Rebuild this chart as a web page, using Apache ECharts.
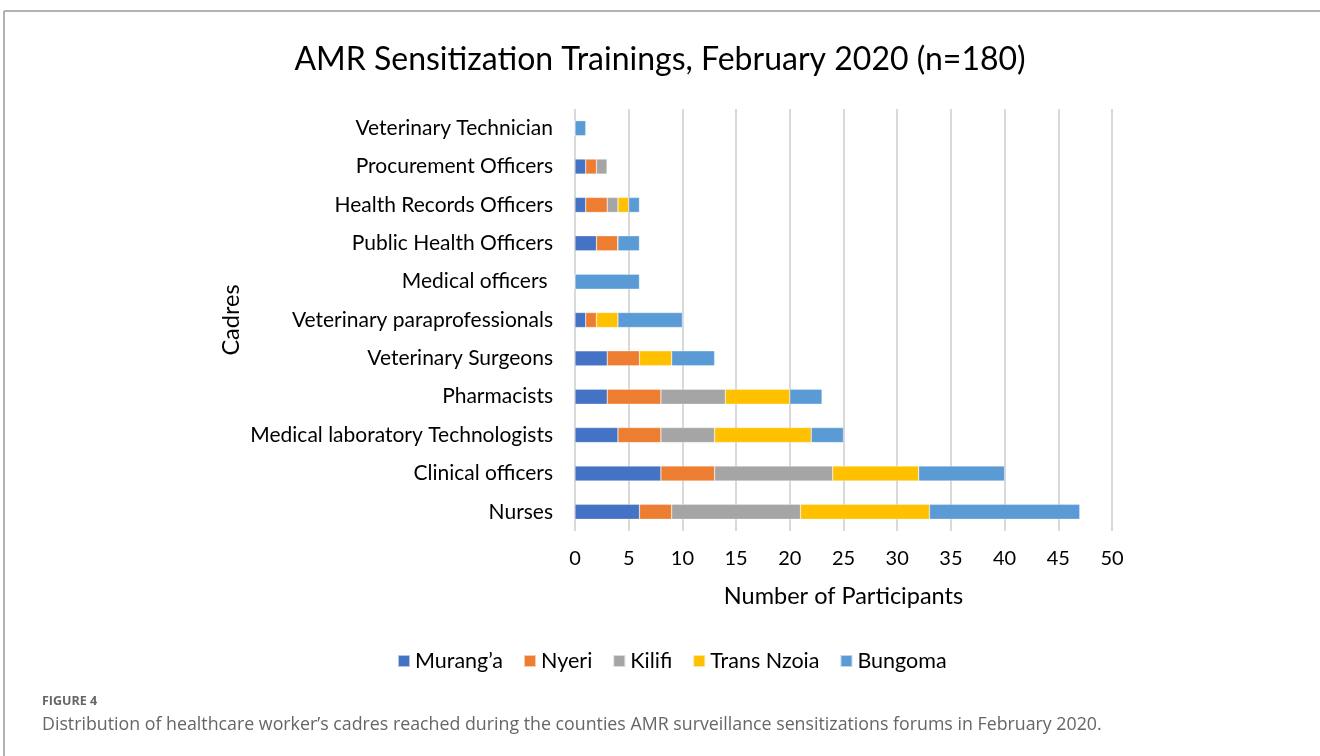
<!DOCTYPE html>
<html><head><meta charset="utf-8">
<script src="https://cdn.jsdelivr.net/npm/echarts@6/dist/echarts.min.js"></script>
<style>html,body{margin:0;padding:0;background:#fff}#c{width:1320px;height:756px}</style>
</head><body><div id="c"></div>
<script>
const categories = ["Veterinary Technician","Procurement Officers","Health Records Officers","Public Health Officers","Medical officers ","Veterinary paraprofessionals","Veterinary Surgeons","Pharmacists","Medical laboratory Technologists","Clinical officers","Nurses"];
const seriesNames = ["Murang\u2019a","Nyeri","Kilifi","Trans Nzoia","Bungoma"];
const muranga    = [0,1,1,2,0,1,3,3,4,8,6];
const nyeri      = [0,1,2,2,0,1,3,5,4,5,3];
const kilifi     = [0,1,1,0,0,0,0,6,5,11,12];
const transNzoia = [0,0,1,0,0,2,3,6,9,8,12];
const bungoma    = [1,0,1,2,6,6,4,3,3,8,14];
const colors = ["#4472C4","#ED7D31","#A5A5A5","#FFC000","#5B9BD5"];
const values = [muranga,nyeri,kilifi,transNzoia,bungoma];
const FONT = "Lato";
const chart = echarts.init(document.getElementById('c'));
chart.setOption({
  animation:false,
  textStyle:{fontFamily:FONT},
  title:{text:"AMR Sensitization Trainings, February 2020 (n=180)",left:'center',top:39,
    textStyle:{fontFamily:FONT,fontSize:32,fontWeight:'normal',color:'#000'}},
  legend:{bottom:79,left:392,itemWidth:12,itemHeight:12,itemGap:20,icon:'rect',
    textStyle:{fontFamily:FONT,fontSize:21.5,color:'#000'}},
  grid:{left:575,right:208,top:109,bottom:225,containLabel:false},
  xAxis:{type:'value',min:0,max:50,interval:5,
    name:'Number of Participants',nameLocation:'middle',nameGap:53,
    nameTextStyle:{fontFamily:FONT,fontSize:23.5,color:'#000'},
    axisLine:{show:false},axisTick:{show:false},
    axisLabel:{fontFamily:FONT,fontSize:20,color:'#000',margin:18},
    splitLine:{lineStyle:{color:'#d9d9d9',width:2}}},
  yAxis:{type:'category',data:categories,inverse:true,
    name:'Cadres',nameLocation:'middle',nameGap:332,nameRotate:90,
    nameTextStyle:{fontFamily:FONT,fontSize:23.5,color:'#000'},
    axisLine:{show:false},axisTick:{show:false},
    axisLabel:{fontFamily:FONT,fontSize:21,color:'#000',margin:22}},
  series: seriesNames.map((n,i)=>({name:n,type:'bar',stack:'t',data:values[i],barWidth:15,
    itemStyle:{color:colors[i],borderColor:'rgba(255,255,255,0.6)',borderWidth:0.5}})),
  graphic:[
    {type:'line',shape:{x1:4,y1:11,x2:1320,y2:11},style:{stroke:'#9a9a9a',lineWidth:1.5}},
    {type:'line',shape:{x1:4,y1:11,x2:4,y2:756},style:{stroke:'#9a9a9a',lineWidth:1.5}},
    {type:'text',left:42,top:695,style:{text:'FIGURE 4',fontFamily:'Open Sans',fontSize:12.5,fontWeight:'bold',fill:'#666'}},
    {type:'text',left:42,top:716,style:{text:'Distribution of healthcare worker\u2019s cadres reached during the counties AMR surveillance sensitizations forums in February 2020.',fontFamily:'Open Sans',fontSize:17.8,fill:'#666'}}
  ]
});
</script></body></html>
